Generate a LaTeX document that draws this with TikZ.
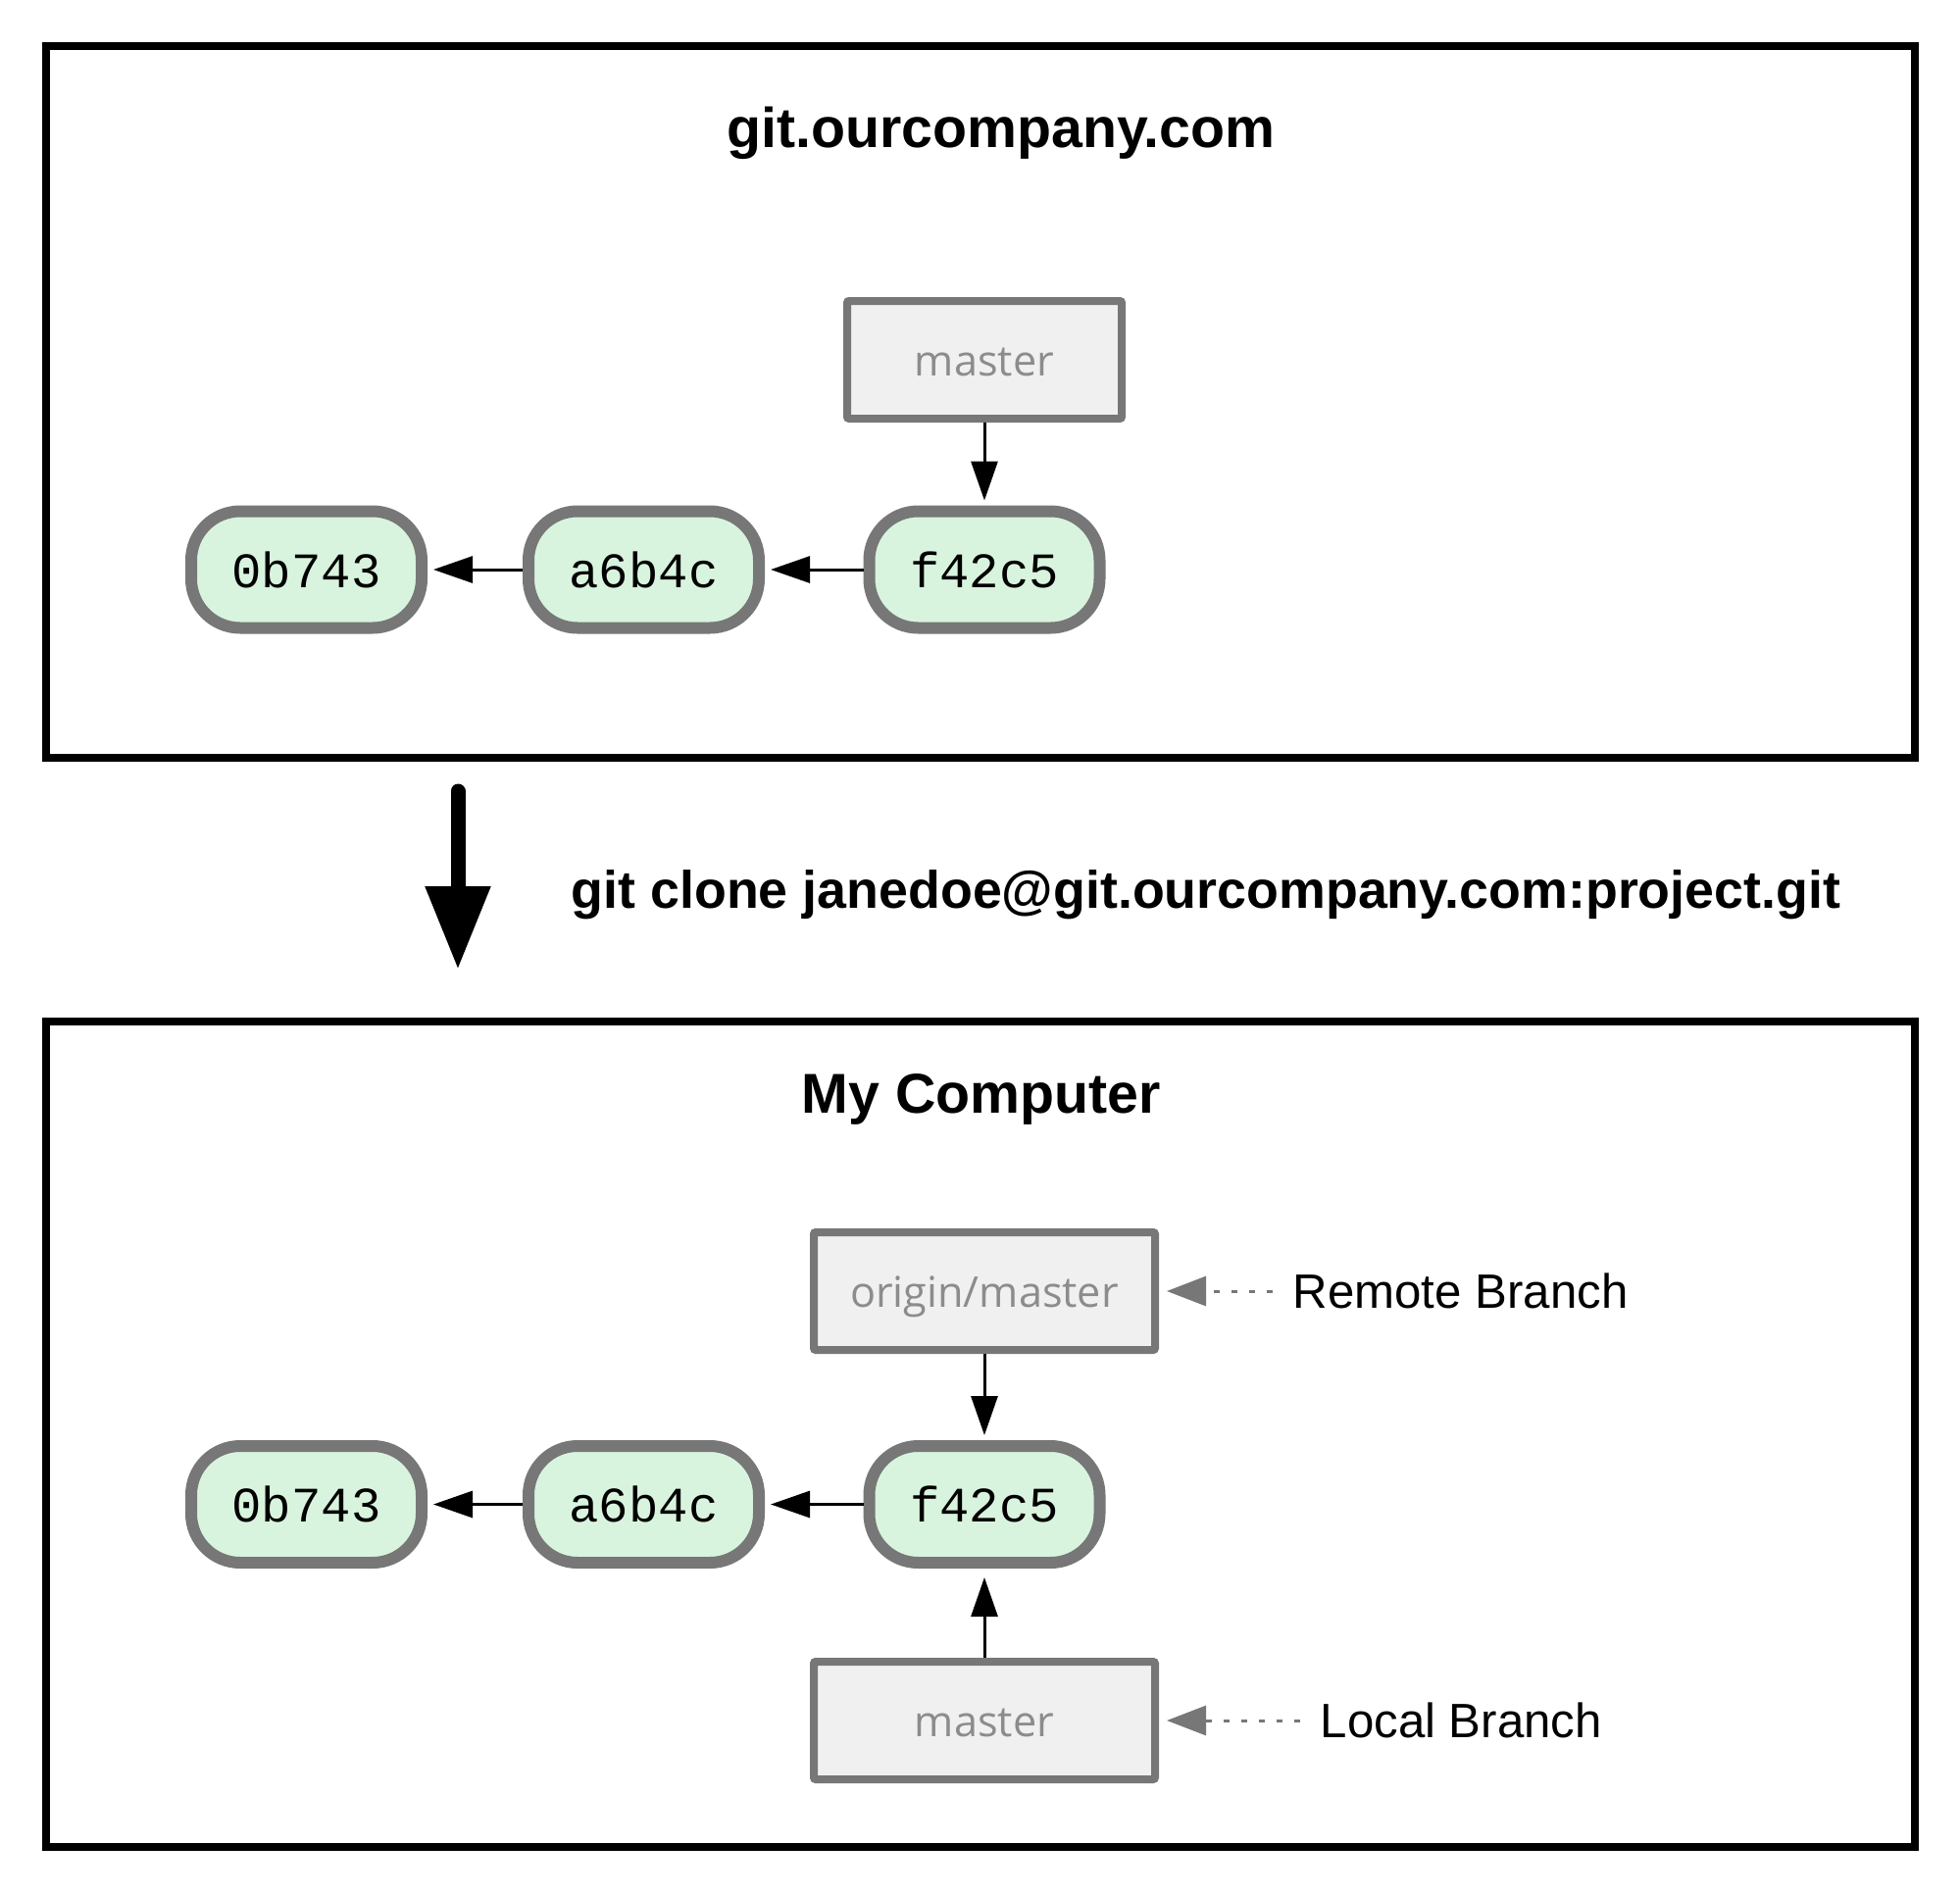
\documentclass[tikz,border=0pt]{standalone}
\usepackage{fontspec}
\setmainfont{Liberation Sans}
\setmonofont{Liberation Mono}
\newfontfamily\branchfont{Open Sans}
\usetikzlibrary{arrows.meta}
\definecolor{edgegray}{HTML}{777777}
\definecolor{labelgray}{HTML}{8C8C8C}
\definecolor{commitgreen}{HTML}{D9F4DE}
\definecolor{boxgray}{HTML}{F0F0F0}

\begin{document}
\begin{tikzpicture}[
  commit/.style={draw=edgegray, fill=commitgreen, line width=0.12cm, rounded corners=0.5cm,
    minimum width=2.35cm, minimum height=1.19cm, font=\ttfamily\fontsize{14.4}{18}\selectfont},
  branch/.style={draw=edgegray, fill=boxgray, line width=0.08cm, rounded corners=0.02cm,
    minimum height=1.2cm, text height=0.38cm, text depth=0.05cm, text=labelgray,
    font=\branchfont\fontsize{12.3}{15}\selectfont},
  title/.style={font=\bfseries\fontsize{16.3}{20}\selectfont},
  note/.style={inner sep=0pt, anchor=west, font=\fontsize{14}{17}\selectfont},
  link/.style={line width=0.03cm, -{Triangle[length=0.4cm, width=0.27cm]}},
  notelink/.style={draw=edgegray, line width=0.03cm, dash pattern=on 0.06cm off 0.12cm,
    -{Triangle[length=0.4cm, width=0.3cm]}},
  frame/.style={line width=0.08cm}
]
  \useasboundingbox (0,0) rectangle (19.99,-19.33);
  \draw[frame] (0.47,-0.47) rectangle (19.53,-7.73);
  \draw[frame] (0.47,-10.42) rectangle (19.53,-18.84);

  \node (server) at (10.21,-1.36) [title] {git.ourcompany.com};
  \node (mine) at (10.01,-11.21) [title] {My Computer};

  \foreach \row/\y in {top/-5.81, bot/-15.345} {
    \node (\row-c1) at (3.125,\y) [commit] {0b743};
    \node (\row-c2) at (6.565,\y) [commit] {a6b4c};
    \node (\row-c3) at (10.04,\y) [commit] {f42c5};
    \draw[link, shorten >=0.06cm] (\row-c2) -- (\row-c1);
    \draw[link, shorten >=0.06cm] (\row-c3) -- (\row-c2);
  }

  \node (master) at (10.04,-3.67) [branch, minimum width=2.8cm] {master};
  \draw[link, shorten >=0.05cm] (master) -- (top-c3);

  \coordinate (clonestart) at (4.67,-8.07);
  \coordinate (cloneend) at (4.67,-9.89);
  \draw[line width=0.15cm, line cap=round, -{Triangle[length=0.85cm, width=0.63cm]}]
    (clonestart) -- (cloneend);
  \node (clone) at (5.82,-9.13) [anchor=west, inner sep=0pt,
    font=\bfseries\fontsize{15.3}{18}\selectfont] {git clone janedoe@git.ourcompany.com:project.git};

  \node (origin) at (10.04,-13.17) [branch, minimum width=3.48cm] {origin/master};
  \node (local) at (10.04,-17.55) [branch, minimum width=3.48cm] {master};
  \draw[link, shorten >=0.05cm] (origin) -- (bot-c3);
  \draw[link, shorten >=0.09cm] (local) -- (bot-c3);

  \node (remote) at (13.18,-13.17) [note] {Remote Branch};
  \node (localnote) at (13.46,-17.55) [note] {Local Branch};
  \draw[notelink, shorten <=0.2cm, shorten >=0.08cm] (remote.west) -- (origin.east);
  \draw[notelink, shorten <=0.2cm, shorten >=0.08cm] (localnote.west) -- (local.east);
\end{tikzpicture}
\end{document}
